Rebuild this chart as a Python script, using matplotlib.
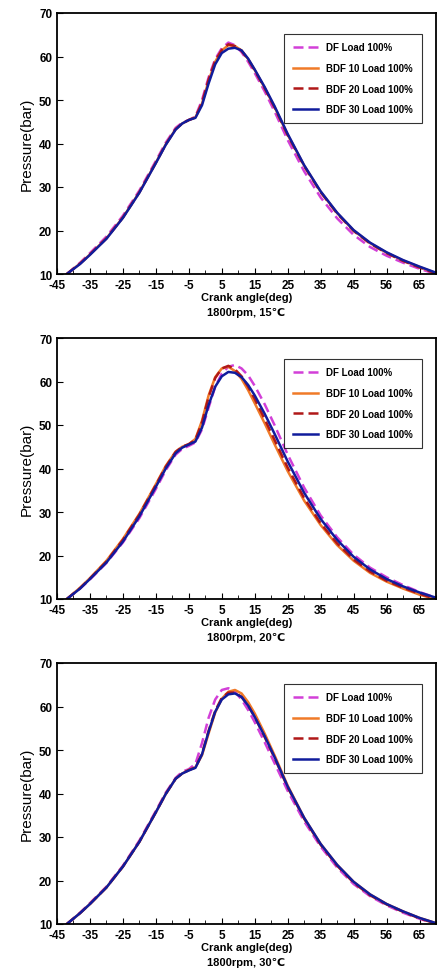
import matplotlib
matplotlib.use('Agg')
import matplotlib.pyplot as plt
from matplotlib.ticker import MultipleLocator

plt.rcParams['font.family'] = ['Liberation Sans', 'DejaVu Sans']

# crank angle (deg)
angle = [-42, -38, -35, -30, -25, -20, -15, -12, -9, -7, -5, -3, -1, 1, 3, 5, 7, 9, 11,
         13, 15, 18, 21, 25, 30, 35, 40, 45, 50, 55, 60, 65, 70]

# panel 1: 15C
p15_df = [10, 12.6, 14.8, 18.6, 23.4, 29.2, 36.0, 40.2, 43.6, 44.8, 45.4, 46.2, 50.0, 55.2, 59.4, 61.9, 63.2, 62.6, 61.0,
          58.8, 56.2, 52.0, 47.4, 40.8, 33.6, 27.6, 22.8, 19.0, 16.2, 14.2, 12.6, 11.2, 10]
p15_b10 = [10, 12.4, 14.5, 18.2, 23.0, 28.8, 35.6, 39.8, 43.3, 44.6, 45.4, 46.0, 49.2, 54.4, 58.8, 61.4, 62.6, 62.4, 61.4,
           59.4, 56.9, 52.8, 48.4, 42.0, 34.9, 28.9, 24.0, 20.0, 17.1, 14.9, 13.1, 11.6, 10.2]
p15_b20 = [10, 12.4, 14.5, 18.2, 23.0, 28.8, 35.6, 39.8, 43.3, 44.6, 45.4, 46.0, 49.4, 54.7, 59.0, 61.5, 62.8, 62.4, 61.3,
           59.3, 56.8, 52.7, 48.3, 41.9, 34.8, 28.8, 23.9, 19.9, 17.0, 14.8, 13.0, 11.5, 10.1]
p15_b30 = [10, 12.3, 14.4, 18.1, 22.9, 28.7, 35.5, 39.7, 43.2, 44.6, 45.4, 45.9, 48.8, 53.8, 58.2, 60.8, 61.8, 62.0, 61.4,
           59.5, 57.0, 53.0, 48.6, 42.2, 35.0, 29.0, 24.1, 20.1, 17.2, 15.0, 13.2, 11.7, 10.3]

# panel 2: 20C
p20_df = [10, 12.4, 14.5, 18.3, 23.0, 28.6, 35.3, 39.6, 43.2, 44.5, 45.2, 46.0, 49.0, 54.0, 58.8, 61.8, 63.4, 63.8, 63.0,
          61.4, 59.0, 54.8, 50.0, 43.2, 35.6, 29.2, 24.2, 20.2, 17.2, 15.0, 13.2, 11.6, 10.3]
p20_b10 = [10, 12.6, 14.8, 18.8, 23.8, 29.6, 36.4, 40.6, 43.9, 45.0, 45.6, 46.8, 51.0, 56.8, 61.0, 63.0, 63.4, 62.4, 60.6,
           58.0, 55.0, 50.4, 45.6, 39.4, 32.6, 27.0, 22.4, 18.8, 16.0, 14.0, 12.4, 11.0, 9.9]
p20_b20 = [10, 12.5, 14.7, 18.6, 23.6, 29.4, 36.2, 40.4, 43.8, 45.0, 45.6, 46.6, 50.6, 56.4, 60.8, 63.0, 63.6, 62.8, 61.2,
           58.8, 56.0, 51.4, 46.6, 40.2, 33.2, 27.4, 22.8, 19.1, 16.3, 14.2, 12.6, 11.2, 10.0]
p20_b30 = [10, 12.4, 14.6, 18.4, 23.2, 29.0, 35.8, 40.0, 43.5, 44.8, 45.5, 46.2, 49.4, 54.6, 58.8, 61.2, 62.2, 62.0, 61.0,
           59.2, 56.8, 52.6, 48.0, 41.6, 34.4, 28.4, 23.6, 19.7, 16.8, 14.6, 12.9, 11.5, 10.3]

# panel 3: 30C
p30_df = [10, 12.6, 14.8, 18.6, 23.4, 29.2, 36.0, 40.2, 43.6, 45.0, 45.6, 46.8, 51.6, 57.4, 61.6, 63.8, 64.2, 63.4, 61.6,
          59.2, 56.4, 51.8, 47.0, 40.6, 33.6, 27.8, 23.0, 19.2, 16.4, 14.3, 12.6, 11.2, 10.0]
p30_b10 = [10, 12.5, 14.6, 18.4, 23.2, 28.9, 35.7, 39.9, 43.4, 44.6, 45.4, 46.0, 48.8, 53.8, 58.6, 61.8, 63.4, 63.8, 63.0,
           61.0, 58.4, 53.8, 48.8, 41.8, 34.4, 28.4, 23.6, 19.7, 16.8, 14.6, 12.9, 11.4, 10.2]
p30_b20 = [10, 12.5, 14.6, 18.4, 23.2, 28.9, 35.7, 39.9, 43.4, 44.6, 45.4, 46.0, 49.2, 54.4, 59.0, 62.0, 63.2, 63.2, 62.2,
           60.2, 57.6, 53.0, 48.2, 41.4, 34.2, 28.2, 23.4, 19.5, 16.6, 14.5, 12.8, 11.3, 10.1]
p30_b30 = [10, 12.5, 14.6, 18.4, 23.2, 28.9, 35.7, 39.9, 43.4, 44.6, 45.3, 45.9, 49.0, 54.2, 58.8, 61.6, 62.8, 63.0, 62.2,
           60.2, 57.6, 53.2, 48.4, 41.6, 34.4, 28.4, 23.6, 19.7, 16.8, 14.6, 12.9, 11.4, 10.2]

panels = [
    ('1800rpm, 15℃', [p15_df, p15_b10, p15_b20, p15_b30]),
    ('1800rpm, 20℃', [p20_df, p20_b10, p20_b20, p20_b30]),
    ('1800rpm, 30℃', [p30_df, p30_b10, p30_b20, p30_b30]),
]
labels = ['DF Load 100%', 'BDF 10 Load 100%', 'BDF 20 Load 100%', 'BDF 30 Load 100%']
colors = ['#d23fd8', '#f07a28', '#b01818', '#101c9c']
styles = ['--', '-', '--', '-']
tick_pos = [-45, -35, -25, -15, -5, 5, 15, 25, 35, 45, 55, 65]
tick_lab = ['-45', '-35', '-25', '-15', '-5', '5', '15', '25', '35', '45', '56', '65']

fig = plt.figure(figsize=(4.46, 9.78), dpi=100)
tops = [14, 339, 664]
for (subtitle, series), top in zip(panels, tops):
    ax = fig.add_axes([57 / 446, 1 - (top + 261) / 978, 379 / 446, 261 / 978])
    for y, c, ls, lab in zip(series, colors, styles, labels):
        ax.plot(angle, y, color=c, linestyle=ls, linewidth=1.8, label=lab,
                dashes=(4, 2) if ls == '--' else (None, None))
    ax.set_xlim(-45, 70)
    ax.set_ylim(10, 70)
    ax.set_xticks(tick_pos)
    ax.set_xticklabels(tick_lab)
    ax.xaxis.set_minor_locator(MultipleLocator(5))
    ax.set_yticks(range(10, 71, 10))
    ax.tick_params(which='both', direction='in', labelsize=8.5)
    ax.tick_params(which='major', length=4)
    ax.tick_params(which='minor', length=3)
    for t in ax.get_xticklabels() + ax.get_yticklabels():
        t.set_fontweight('bold')
    for s in ax.spines.values():
        s.set_linewidth(1.3)
    ax.set_ylabel('Pressure(bar)', fontsize=11)
    ax.set_xlabel('Crank angle(deg)\n' + subtitle, fontsize=8, fontweight='bold', labelpad=1, linespacing=1.6)
    leg = ax.legend(loc='upper right', bbox_to_anchor=(0.975, 0.94), fontsize=7, prop={'weight': 'bold', 'size': 7},
                    frameon=True, fancybox=False, edgecolor='black', handlelength=2.6, labelspacing=1.1,
                    borderpad=0.9)
    leg.get_frame().set_linewidth(0.8)

fig.savefig('out.png', dpi=100)
